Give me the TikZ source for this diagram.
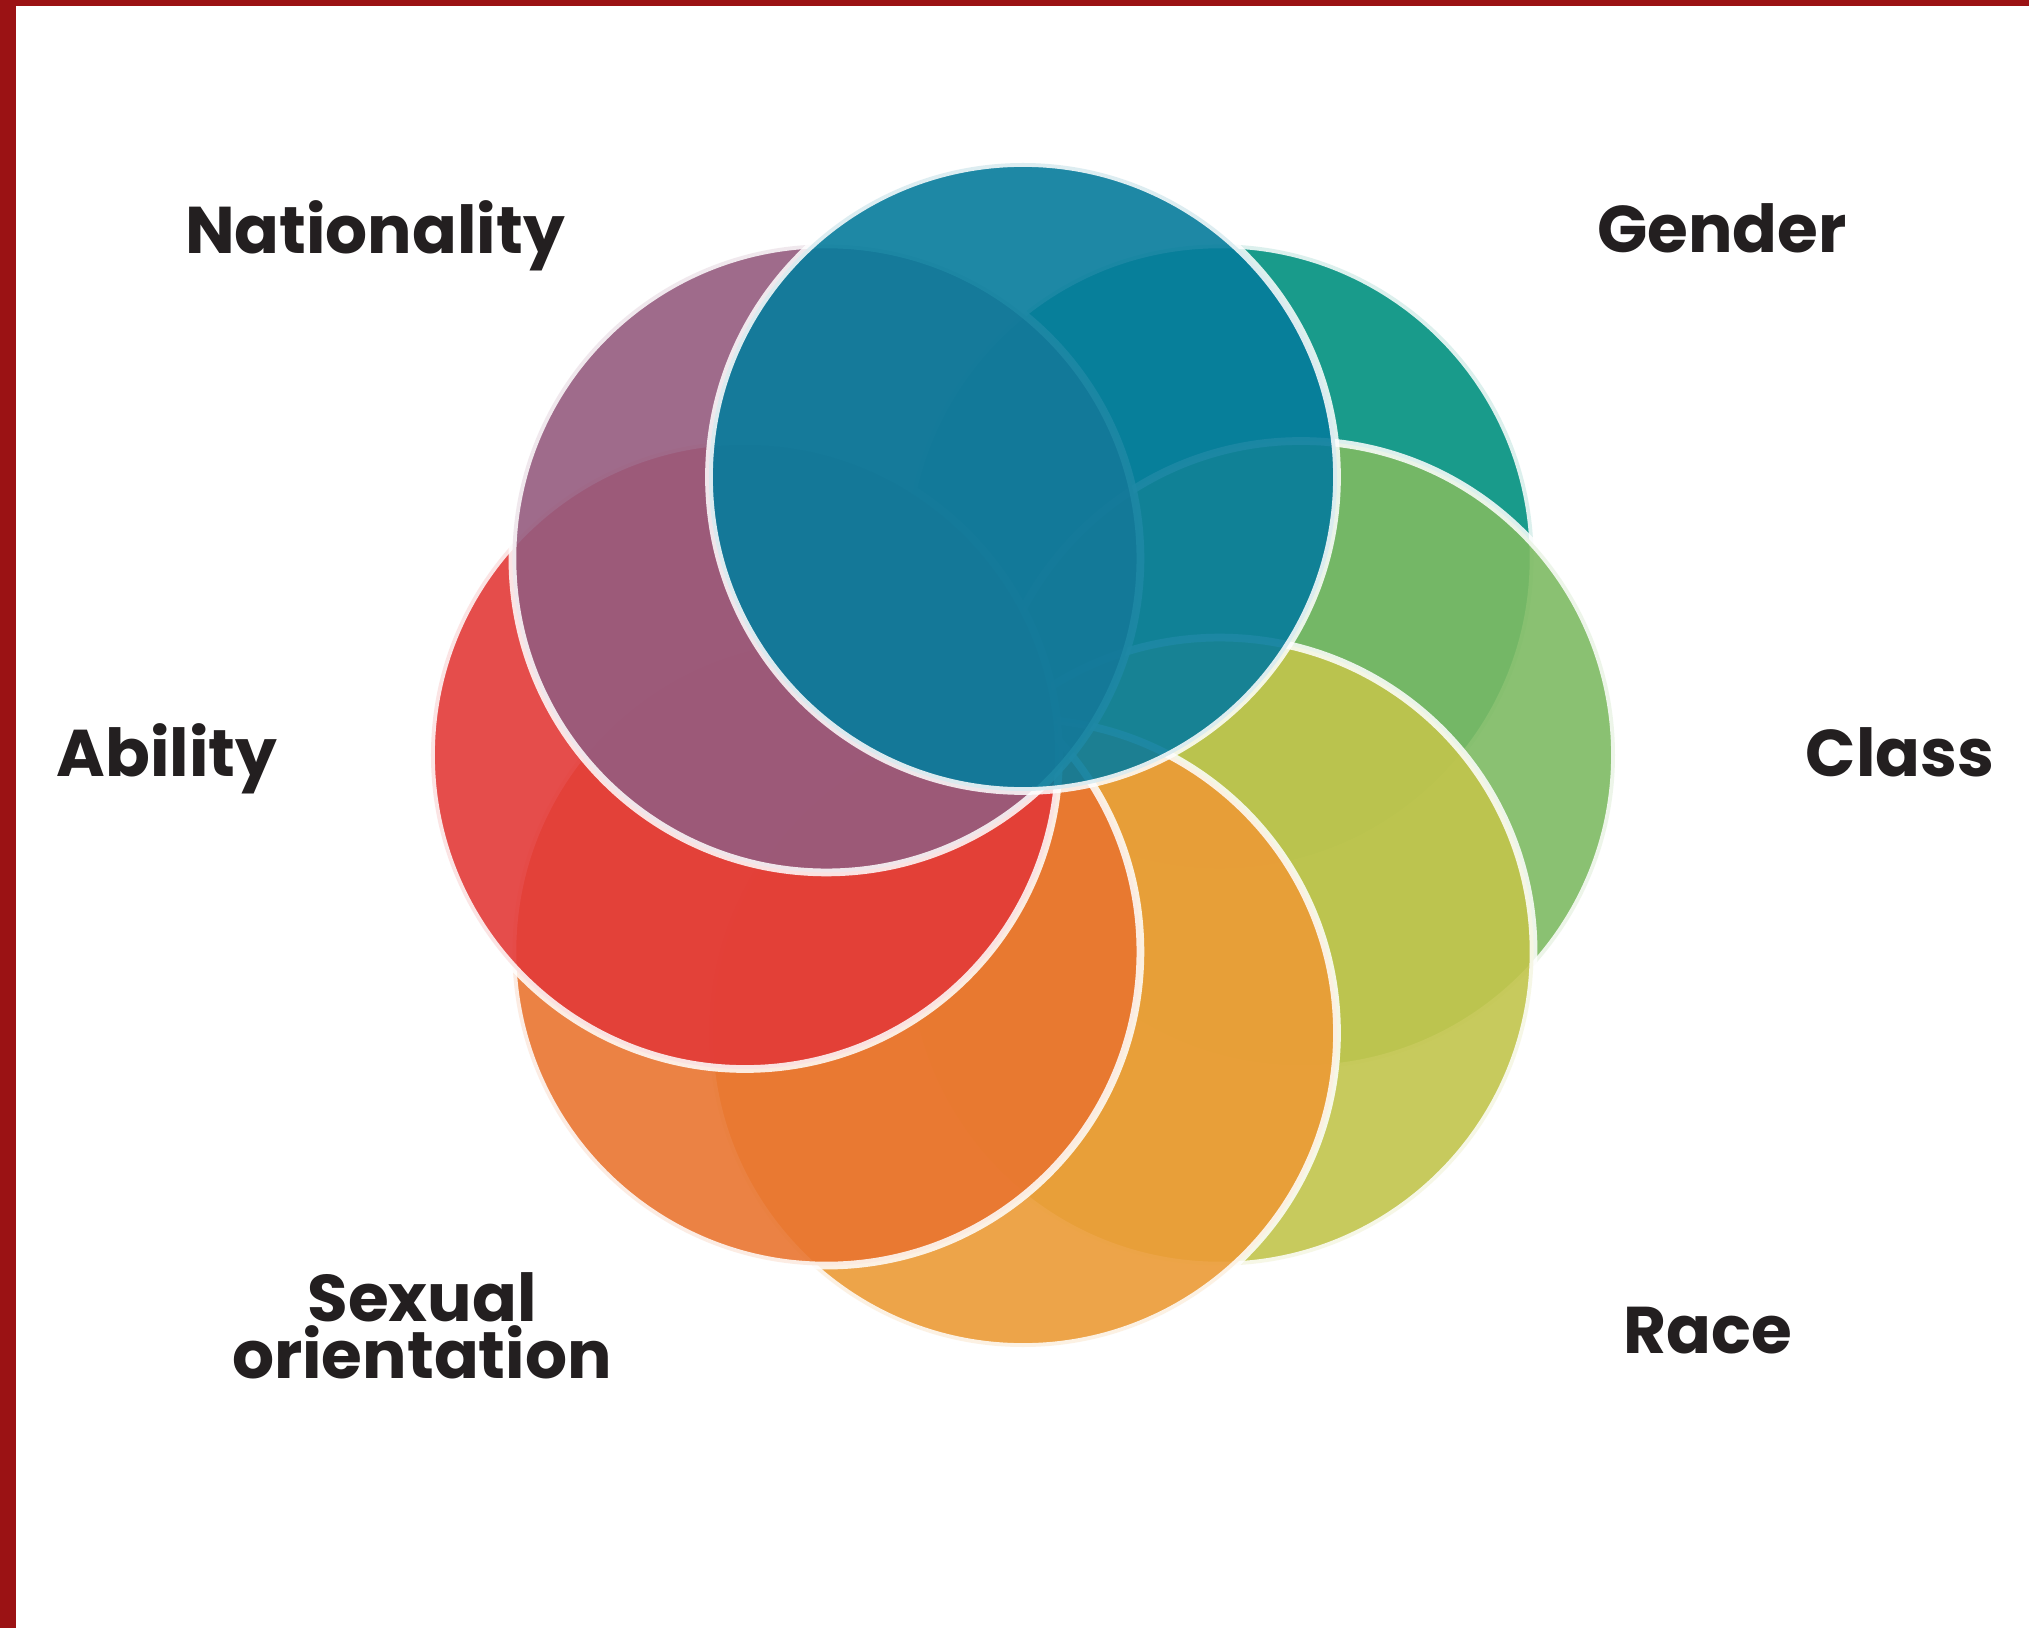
\documentclass[tikz,border=0pt]{standalone}
\usepackage{fontspec}
\setmainfont{Poppins}

\definecolor{frame}{HTML}{9B1214}
\definecolor{ink}{HTML}{231F20}
\definecolor{cblue}{HTML}{067C9C}
\definecolor{cteal}{HTML}{00917F}
\definecolor{cgreen}{HTML}{7EBB63}
\definecolor{clime}{HTML}{C2C54C}
\definecolor{camber}{HTML}{EC9B36}
\definecolor{corange}{HTML}{E97530}
\definecolor{cred}{HTML}{E33A38}
\definecolor{cplum}{HTML}{955C7F}

\begin{document}
\begin{tikzpicture}[
    ring/.style={circle, inner sep=0pt, minimum size=6.28cm, draw=white, draw opacity=0.85, line width=2.2pt, fill opacity=0.9},
    tag/.style={anchor=base, inner sep=0pt, text=ink, font=\bfseries\fontsize{18.8}{16}\selectfont}]
    \path[use as bounding box, fill=white] (-10.23,-8.73) rectangle (10.06,7.55);
    \fill[frame] (-10.23,-8.73) rectangle (-10.07,7.55);
    \fill[frame] (-10.23,7.49) rectangle (10.06,7.55);
    % circles, bottom layer first
    \node (gen) [ring, fill=cteal] at (45 : 2.78) {};
    \node (cls) [ring, fill=cgreen] at (0 : 2.78) {};
    \node (rac) [ring, fill=clime] at (-45 : 2.78) {};
    \node (low) [ring, fill=camber] at (-90 : 2.78) {};
    \node (sex) [ring, fill=corange] at (-135 : 2.78) {};
    \node (abl) [ring, fill=cred] at (180 : 2.78) {};
    \node (nat) [ring, fill=cplum] at (135 : 2.78) {};
    \node (top) [ring, fill=cblue] at (90 : 2.78) {};
    % labels
    \node (tnat) [tag] at (-6.48,5.01) {Nationality};
    \node (tgen) [tag] at (6.99,5.02) {Gender};
    \node (tabl) [tag] at (-8.56,-0.21) {Ability};
    \node (tcls) [tag] at (8.77,-0.21) {Class};
    \node (trac) [tag] at (6.85,-5.98) {Race};
    \node (tsex) [tag, align=center] at (-6.01,-6.23) {Sexual\\orientation};
\end{tikzpicture}
\end{document}
